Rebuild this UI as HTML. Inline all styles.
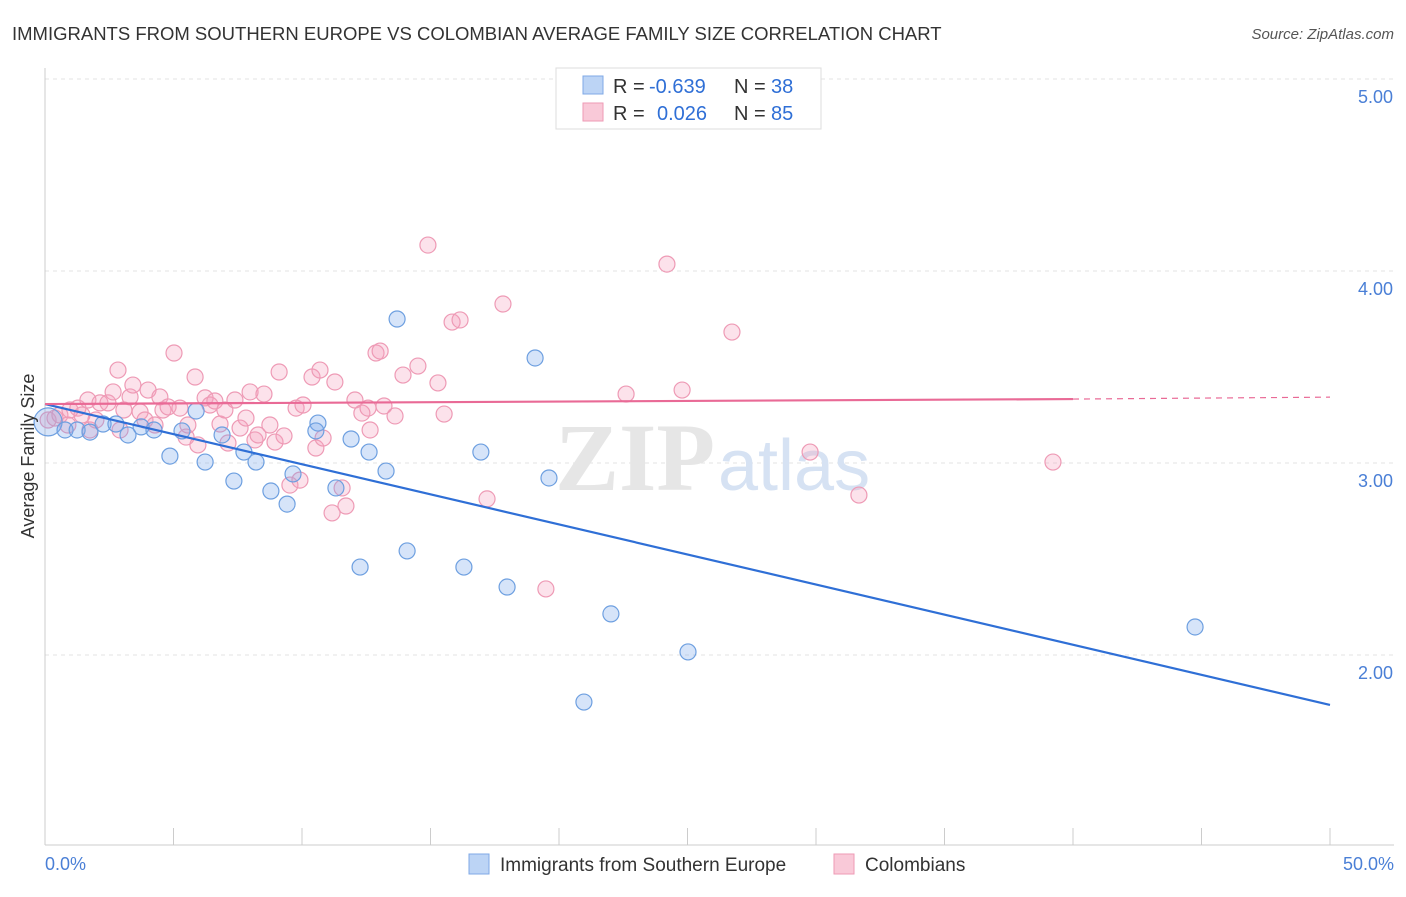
<!DOCTYPE html>
<html><head><meta charset="utf-8"><style>
body{margin:0;background:#fff;font-family:"Liberation Sans",sans-serif;}
</style></head><body>
<svg width="1406" height="892" xmlns="http://www.w3.org/2000/svg" font-family="Liberation Sans, sans-serif">
<text x="12" y="40" font-size="18.5" fill="#333">IMMIGRANTS FROM SOUTHERN EUROPE VS COLOMBIAN AVERAGE FAMILY SIZE CORRELATION CHART</text>
<text x="1394" y="39" font-size="15" fill="#555" text-anchor="end" font-style="italic">Source: ZipAtlas.com</text>
<g id="grid"></g>
<text x="555" y="490" font-size="96" fill="#e6e6e6" font-family="Liberation Serif, serif" font-weight="bold">ZIP</text>
<text x="718" y="490" font-size="72" fill="#d6e2f3">atlas</text>
<g id="pts"></g>
<g id="lines"></g>
<text transform="translate(34,456) rotate(-90)" font-size="18" fill="#333" text-anchor="middle">Average Family Size</text>
<text x="45" y="870" font-size="18" fill="#4a7fd6">0.0%</text>
<text x="1394" y="870" font-size="18" fill="#4a7fd6" text-anchor="end">50.0%</text>
<g font-size="20">
<rect x="556" y="68" width="265" height="61" fill="#fff" stroke="#ddd"/>
<rect x="583" y="76" width="20" height="18" fill="#bcd4f5" stroke="#7fa8e6"/>
<rect x="583" y="103" width="20" height="18" fill="#f9c9d8" stroke="#ee9ab5"/>
<text x="613" y="93" fill="#333">R =</text>
<text x="649" y="93" fill="#2f6fd6">-0.639</text>
<text x="734" y="93" fill="#333">N =</text>
<text x="771" y="93" fill="#2f6fd6">38</text>
<text x="613" y="120" fill="#333">R =</text>
<text x="657" y="120" fill="#2f6fd6">0.026</text>
<text x="734" y="120" fill="#333">N =</text>
<text x="771" y="120" fill="#2f6fd6">85</text>
</g>
<g>
<rect x="469" y="854" width="20" height="20" fill="#bcd4f5" stroke="#7fa8e6"/>
<text x="500" y="871" font-size="19" fill="#333">Immigrants from Southern Europe</text>
<rect x="834" y="854" width="20" height="20" fill="#f9c9d8" stroke="#ee9ab5"/>
<text x="865" y="871" font-size="19" fill="#333">Colombians</text>
</g>
</svg>
<script>
const yTicks=[2,3,4,5];
const yTickLabels=["2.00","3.00","4.00","5.00"];
const bluePx=[[48,422],[65,430],[77,430],[90,432],[103,424],[116,424],[128,435],[141,427],[154,430],[170,456],[182,431],[196,411],[205,462],[222,435],[234,481],[244,452],[256,462],[271,491],[287,504],[293,474],[318,423],[316,431],[336,488],[351,439],[360,567],[369,452],[386,471],[397,319],[407,551],[464,567],[481,452],[507,587],[535,358],[549,478],[611,614],[688,652],[584,702],[1195,627]];
const pinkPx=[[48,420],[55,418],[60,415],[68,425],[70,410],[78,408],[82,415],[90,430],[88,400],[96,420],[100,403],[108,403],[113,392],[118,370],[120,430],[124,410],[130,397],[133,385],[140,412],[145,420],[148,390],[155,425],[160,397],[163,410],[168,407],[174,353],[180,408],[186,437],[188,425],[195,377],[198,445],[205,398],[210,405],[215,401],[220,424],[225,410],[228,443],[235,400],[240,428],[246,418],[250,392],[255,440],[258,435],[264,394],[270,425],[275,442],[279,372],[284,436],[290,485],[296,408],[300,480],[303,405],[312,377],[316,448],[320,370],[323,438],[332,513],[335,382],[342,488],[346,506],[355,400],[362,413],[368,408],[370,430],[376,353],[380,351],[384,406],[395,416],[403,375],[418,366],[428,245],[438,383],[444,414],[452,322],[460,320],[487,499],[503,304],[546,589],[626,394],[667,264],[682,390],[732,332],[810,452],[859,495],[1053,462]];
const blueData=bluePx.map(p=>[+((p[0]-45)/1285*50).toFixed(2),+(5-(p[1]-79)/192).toFixed(3)]);
const pinkData=pinkPx.map(p=>[+((p[0]-45)/1285*50).toFixed(2),+(5-(p[1]-79)/192).toFixed(3)]);
const blueTrend=[[0,3.307],[50,1.74]];
const pinkTrend=[[0,3.307],[40,3.333],[50,3.343]];
const X=v=>45+v/50*1285, Y=v=>79+(5-v)*192;
const NS="http://www.w3.org/2000/svg";
function mk(t,a,parent){const e=document.createElementNS(NS,t);for(const k in a)e.setAttribute(k,a[k]);parent.appendChild(e);return e;}
const grid=document.getElementById('grid');
yTicks.forEach((t,i)=>{
 const l=mk('line',{x1:45,x2:1394,y1:Y(t),y2:Y(t),stroke:'#e3e3e3','stroke-dasharray':'4,4'},grid);
 
 
 const tx=mk('text',{x:1393,y:Y(t)+24,'font-size':18,fill:'#4a7fd6','text-anchor':'end'},grid);
 tx.textContent=yTickLabels[i];
 
 
});
const ax=mk('line',{x1:45,x2:45,y1:68,y2:845,stroke:'#ccc'},grid);


const bx=mk('line',{x1:45,x2:1394,y1:845,y2:845,stroke:'#ccc'},grid);


for(let i=0;i<=10;i++){const t=mk('line',{x1:X(i*5),x2:X(i*5),y1:828,y2:845,stroke:'#ccc'},grid);
 
 }
const pts=document.getElementById('pts');
pinkData.forEach(d=>{const c=mk('circle',{cx:X(d[0]),cy:Y(d[1]),r:8,fill:'rgba(244,160,188,0.3)',stroke:'#ee9ab5','stroke-width':1.2},pts);
 
 });
blueData.forEach((d,i)=>{const c=mk('circle',{cx:X(d[0]),cy:Y(d[1]),r:i==0?14:8,fill:'rgba(120,165,235,0.3)',stroke:'#6d9fe0','stroke-width':1.2},pts);
 
 });
const ln=document.getElementById('lines');
const b=mk('line',{x1:X(blueTrend[0][0]),y1:Y(blueTrend[0][1]),x2:X(blueTrend[1][0]),y2:Y(blueTrend[1][1]),stroke:'#2f6fd6','stroke-width':2.2},ln);


const p=mk('line',{x1:X(pinkTrend[0][0]),y1:Y(pinkTrend[0][1]),x2:X(pinkTrend[1][0]),y2:Y(pinkTrend[1][1]),stroke:'#e96a96','stroke-width':2.2},ln);


const pd=mk('line',{x1:X(pinkTrend[1][0]),y1:Y(pinkTrend[1][1]),x2:X(pinkTrend[2][0]),y2:Y(pinkTrend[2][1]),stroke:'#e96a96','stroke-width':1.2,'stroke-dasharray':'6,5'},ln);


</script>
</body></html>
